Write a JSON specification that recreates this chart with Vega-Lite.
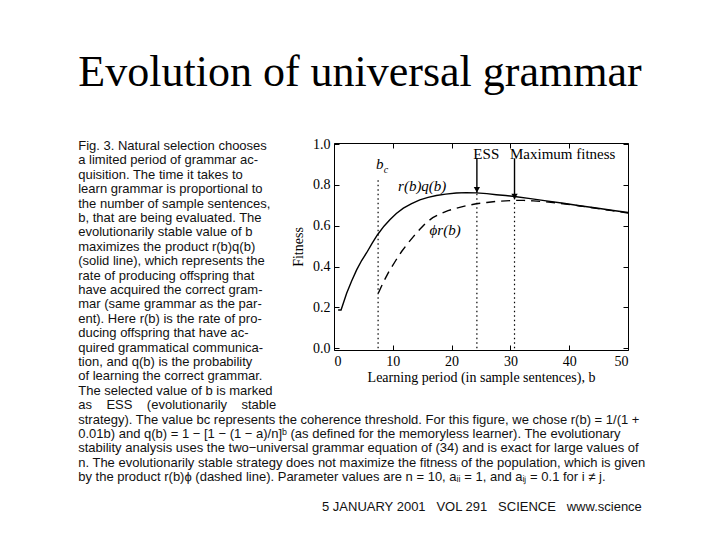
{
  "$schema": "https://vega.github.io/schema/vega-lite/v6.json",
  "autosize": "none",
  "width": 294,
  "height": 207,
  "padding": {"left": 334, "top": 143, "right": 92, "bottom": 190},
  "background": "white",
  "config": {
    "view": {"stroke": "black", "strokeWidth": 1},
    "axis": {"grid": false, "domain": false, "tickColor": "black", "labelColor": "black", "titleColor": "black", "labelFont": "Liberation Serif", "titleFont": "Liberation Serif", "labelFontSize": 14, "titleFontSize": 14, "titleFontWeight": "normal"}
  },
  "datasets": {
    "solid": [
      {"b": 0.7, "f": 0.188}, {"b": 1.2, "f": 0.188}, {"b": 2.15, "f": 0.27}, {"b": 3.0, "f": 0.33},
      {"b": 3.85, "f": 0.384}, {"b": 4.7, "f": 0.43}, {"b": 5.55, "f": 0.468}, {"b": 6.5, "f": 0.515},
      {"b": 7.4, "f": 0.556}, {"b": 8.5, "f": 0.598}, {"b": 9.5, "f": 0.629}, {"b": 10.6, "f": 0.66},
      {"b": 11.8, "f": 0.686}, {"b": 13.2, "f": 0.708}, {"b": 14.6, "f": 0.727}, {"b": 16.0, "f": 0.739},
      {"b": 17.4, "f": 0.748}, {"b": 19.0, "f": 0.755}, {"b": 20.8, "f": 0.76}, {"b": 22.5, "f": 0.762},
      {"b": 24.2, "f": 0.761}, {"b": 26.0, "f": 0.757}, {"b": 27.6, "f": 0.752}, {"b": 29.2, "f": 0.748},
      {"b": 30.7, "f": 0.743}, {"b": 33.4, "f": 0.733}, {"b": 36.1, "f": 0.722}, {"b": 39.0, "f": 0.71},
      {"b": 41.8, "f": 0.698}, {"b": 44.6, "f": 0.687}, {"b": 47.5, "f": 0.675}, {"b": 50.0, "f": 0.665}
    ],
    "dashed": [
      {"b": 7.53, "f": 0.27}, {"b": 8.5, "f": 0.33}, {"b": 9.5, "f": 0.384}, {"b": 10.5, "f": 0.43},
      {"b": 11.5, "f": 0.474}, {"b": 12.5, "f": 0.512}, {"b": 13.5, "f": 0.547}, {"b": 14.6, "f": 0.583},
      {"b": 15.7, "f": 0.616}, {"b": 16.8, "f": 0.64}, {"b": 18.0, "f": 0.658}, {"b": 19.4, "f": 0.674},
      {"b": 20.8, "f": 0.686}, {"b": 22.5, "f": 0.698}, {"b": 24.2, "f": 0.708}, {"b": 26.0, "f": 0.714},
      {"b": 27.6, "f": 0.719}, {"b": 29.2, "f": 0.722}, {"b": 30.7, "f": 0.724}, {"b": 32.3, "f": 0.724},
      {"b": 33.9, "f": 0.722}, {"b": 36.5, "f": 0.716}, {"b": 39.0, "f": 0.708}, {"b": 41.8, "f": 0.697},
      {"b": 44.6, "f": 0.685}, {"b": 47.3, "f": 0.674}, {"b": 50.0, "f": 0.662}
    ],
    "markers": [
      {"name": "bc", "b": 7.5, "y0": 0, "y1": 0.837},
      {"name": "ESS", "b": 24.3, "y0": 0, "y1": 0.76},
      {"name": "Maximum fitness", "b": 30.7, "y0": 0, "y1": 0.727}
    ],
    "arrows": [
      {"name": "ESS", "b": 24.3, "top": 0.93, "tip": 0.762},
      {"name": "Maximum fitness", "b": 30.7, "top": 0.93, "tip": 0.729}
    ],
    "labels": [
      {"text": "ESS", "b": 25.9, "f": 0.953},
      {"text": "Maximum fitness", "b": 38.9, "f": 0.953}
    ],
    "curvelabels": [
      {"text": "r(b)q(b)", "b": 15.0, "f": 0.795},
      {"text": "ϕr(b)", "b": 18.9, "f": 0.58},
      {"text": "b", "b": 7.8, "f": 0.9}
    ],
    "subs": [
      {"text": "c", "b": 8.85, "f": 0.874}
    ],
    "caption": [
      {"line": 0, "text": "Fig. 3. Natural selection chooses"},
      {"line": 1, "text": "a limited period of grammar ac-"},
      {"line": 2, "text": "quisition. The time it takes to"},
      {"line": 3, "text": "learn grammar is proportional to"},
      {"line": 4, "text": "the number of sample sentences,"},
      {"line": 5, "text": "b, that are being evaluated. The"},
      {"line": 6, "text": "evolutionarily stable value of b"},
      {"line": 7, "text": "maximizes the product r(b)q(b)"},
      {"line": 8, "text": "(solid line), which represents the"},
      {"line": 9, "text": "rate of producing offspring that"},
      {"line": 10, "text": "have acquired the correct gram-"},
      {"line": 11, "text": "mar (same grammar as the par-"},
      {"line": 12, "text": "ent). Here r(b) is the rate of pro-"},
      {"line": 13, "text": "ducing offspring that have ac-"},
      {"line": 14, "text": "quired grammatical communica-"},
      {"line": 15, "text": "tion, and q(b) is the probability"},
      {"line": 16, "text": "of learning the correct grammar."},
      {"line": 17, "text": "The selected value of b is marked"},
      {"line": 18, "text": "as\u00a0\u00a0\u00a0 ESS\u00a0\u00a0\u00a0 (evolutionarily\u00a0\u00a0\u00a0 stable"},
      {"line": 19, "text": "strategy). The value bc represents the coherence threshold. For this figure, we chose r(b) = 1/(1 +"},
      {"line": 20, "text": "0.01b) and q(b) = 1 − [1 − (1 − a)/n]ᵇ (as defined for the memoryless learner). The evolutionary"},
      {"line": 21, "text": "stability analysis uses the two−universal grammar equation of (34) and is exact for large values of"},
      {"line": 22, "text": "n. The evolutionarily stable strategy does not maximize the fitness of the population, which is given"},
      {"line": 23, "text": "by the product r(b)ϕ (dashed line). Parameter values are n = 10, aᵢᵢ = 1, and aᵢⱼ = 0.1 for i ≠ j."}
    ],
    "footer": [
      {"line": 25.1, "text": "5 JANUARY 2001\u00a0\u00a0 VOL 291\u00a0\u00a0 SCIENCE\u00a0\u00a0 www.science"}
    ],
    "title": [
      {"line": -4.17, "text": "Evolution of universal grammar"}
    ]
  },
  "layer": [
    {
      "layer": [
        {
          "layer": [
            {
              "data": {"name": "markers"},
              "mark": {"type": "rule", "strokeDash": [1.5, 3], "strokeWidth": 1.2, "color": "black"},
              "encoding": {
                "x": {"field": "b", "type": "quantitative", "scale": {"domain": [0, 50], "nice": false, "zero": false},
                  "axis": {"orient": "bottom", "values": [0, 10, 20, 30, 40, 50], "tickSize": -5, "labelPadding": 9, "title": "Learning period (in sample sentences),  b", "titlePadding": 2}},
                "y": {"field": "y0", "type": "quantitative", "scale": {"domain": [-0.008, 1.005], "nice": false, "zero": false},
                  "axis": {"orient": "left", "values": [0, 0.2, 0.4, 0.6, 0.8, 1.0], "format": ".1f", "tickSize": -5, "labelPadding": 9, "title": "Fitness", "titlePadding": 7}},
                "y2": {"field": "y1"}
              }
            },
            {
              "data": {"name": "solid"},
              "mark": {"type": "line", "color": "black", "strokeWidth": 1.4},
              "encoding": {
                "x": {"field": "b", "type": "quantitative"},
                "y": {"field": "f", "type": "quantitative"}
              }
            },
            {
              "data": {"name": "dashed"},
              "mark": {"type": "line", "color": "black", "strokeWidth": 1.4, "strokeDash": [9, 6]},
              "encoding": {
                "x": {"field": "b", "type": "quantitative"},
                "y": {"field": "f", "type": "quantitative"}
              }
            },
            {
              "data": {"name": "arrows"},
              "mark": {"type": "rule", "color": "black", "strokeWidth": 1.4},
              "encoding": {
                "x": {"field": "b", "type": "quantitative"},
                "y": {"field": "top", "type": "quantitative"},
                "y2": {"field": "tip"}
              }
            },
            {
              "data": {"name": "arrows"},
              "mark": {"type": "point", "shape": "triangle-down", "filled": true, "color": "black", "size": 40, "opacity": 1, "yOffset": -3},
              "encoding": {
                "x": {"field": "b", "type": "quantitative"},
                "y": {"field": "tip", "type": "quantitative"}
              }
            },
            {
              "data": {"name": "labels"},
              "mark": {"type": "text", "font": "Liberation Serif", "fontSize": 15, "color": "black", "align": "center", "baseline": "middle"},
              "encoding": {
                "x": {"field": "b", "type": "quantitative"},
                "y": {"field": "f", "type": "quantitative"},
                "text": {"field": "text"}
              }
            },
            {
              "data": {"name": "curvelabels"},
              "mark": {"type": "text", "font": "Liberation Serif", "fontStyle": "italic", "fontSize": 15, "color": "black", "align": "center", "baseline": "middle"},
              "encoding": {
                "x": {"field": "b", "type": "quantitative"},
                "y": {"field": "f", "type": "quantitative"},
                "text": {"field": "text"}
              }
            },
            {
              "data": {"name": "subs"},
              "mark": {"type": "text", "font": "Liberation Serif", "fontStyle": "italic", "fontSize": 10, "color": "black", "align": "center", "baseline": "middle"},
              "encoding": {
                "x": {"field": "b", "type": "quantitative"},
                "y": {"field": "f", "type": "quantitative"},
                "text": {"field": "text"}
              }
            }
          ]
        },
        {
          "data": {"values": [{"k": 1}]},
          "mark": {"type": "point", "opacity": 0},
          "encoding": {
            "x": {"datum": 0, "type": "quantitative", "axis": {"orient": "top", "values": [0, 10, 20, 30, 40, 50], "tickSize": -5, "labels": false, "title": null}},
            "y": {"datum": 0, "type": "quantitative", "axis": {"orient": "right", "values": [0, 0.2, 0.4, 0.6, 0.8, 1.0], "tickSize": -5, "labels": false, "title": null}}
          }
        }
      ],
      "resolve": {"axis": {"x": "independent", "y": "independent"}}
    },
    {
      "layer": [
        {
          "data": {"name": "caption"},
          "mark": {"type": "text", "font": "Liberation Sans", "fontSize": 13, "color": "#111111", "align": "left", "baseline": "middle"},
          "encoding": {
            "x": {"datum": -43.5, "type": "quantitative", "axis": null},
            "y": {"field": "line", "type": "quantitative", "scale": {"domain": [-0.208, 14.167], "reverse": true, "nice": false, "zero": false}, "axis": null},
            "text": {"field": "text"}
          }
        },
        {
          "data": {"name": "footer"},
          "mark": {"type": "text", "font": "Liberation Sans", "fontSize": 13, "color": "#111111", "align": "left", "baseline": "middle"},
          "encoding": {
            "x": {"datum": -2.04, "type": "quantitative", "axis": null},
            "y": {"field": "line", "type": "quantitative", "axis": null},
            "text": {"field": "text"}
          }
        },
        {
          "data": {"name": "title"},
          "mark": {"type": "text", "font": "Liberation Serif", "fontSize": 44, "color": "black", "align": "center", "baseline": "alphabetic"},
          "encoding": {
            "x": {"datum": 4.42, "type": "quantitative", "axis": null},
            "y": {"field": "line", "type": "quantitative", "axis": null},
            "text": {"field": "text"}
          }
        }
      ]
    }
  ],
  "resolve": {"scale": {"y": "independent"}}
}
